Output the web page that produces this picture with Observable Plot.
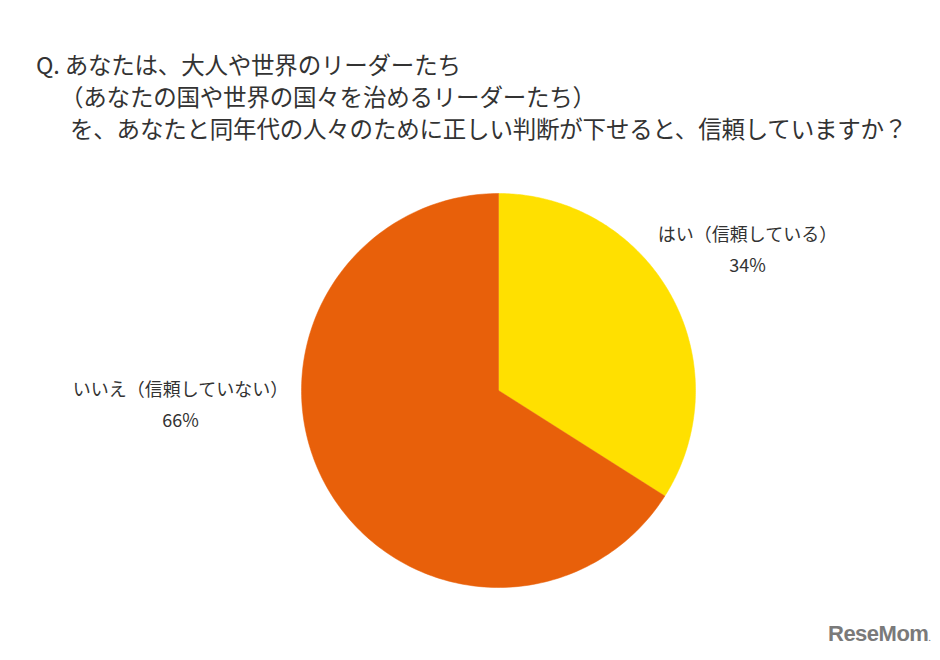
<!DOCTYPE html>
<html><head><meta charset="utf-8">
<script src="https://cdn.jsdelivr.net/npm/d3@7"></script>
<script src="https://cdn.jsdelivr.net/npm/@observablehq/plot@0.6"></script>
<style>
body{margin:0;background:#fff;font-family:"Noto Sans CJK JP","Noto Sans",sans-serif;color:#333;}
#wrap{position:relative;width:940px;height:660px;overflow:hidden;}
#title{position:relative;height:150px;}
#title div{position:absolute;font-size:23.5px;white-space:nowrap;color:#333;letter-spacing:-0.2px}
#mark{position:absolute;left:828px;top:621px;font-family:"Liberation Sans",Arial,sans-serif;font-weight:bold;font-size:22px;color:#7a7a7a;letter-spacing:-0.5px}
</style></head>
<body><div id="wrap">
<div id="title"></div>
<div id="chart"></div>
<div id="mark">ReseMom<span style="font-size:8px">.</span></div>
</div>
<script>
const titleLines = ["Q. あなたは、大人や世界のリーダーたち","（あなたの国や世界の国々を治めるリーダーたち）","を、あなたと同年代の人々のために正しい判断が下せると、信頼していますか？"];
const categories = ["はい（信頼している）","いいえ（信頼していない）"];
const values = [34, 66];
const valueLabels = ["34%","66%"];
const colors = ["#FFE000","#E8600A"];

// title layout
const tpos = [[36,47],[60,79],[70,111]];
const t = document.getElementById("title");
titleLines.forEach((s,i)=>{const d=document.createElement("div");d.textContent=s;d.style.left=tpos[i][0]+"px";d.style.top=tpos[i][1]+"px";t.appendChild(d);});

const W=940,H=510,cx=498,cy=240,R=197;
const pie = d3.pie().sort(null).startAngle(0).endAngle(2*Math.PI)(values);
const pts=[];
pie.forEach((a,i)=>{
  pts.push({c:categories[i],x:0,y:0});
  const n=200;
  for(let k=0;k<=n;k++){const ang=a.startAngle+(a.endAngle-a.startAngle)*k/n;pts.push({c:categories[i],x:Math.sin(ang),y:Math.cos(ang)});}
  pts.push({c:categories[i],x:0,y:0});
});
// label anchors (layout, in units of radius)
const labelPos=[[(747-cx)/R,(cy-(235-150))/R],[(180-cx)/R,(cy-(390-150))/R]];
const labels=[];
categories.forEach((c,i)=>{
  labels.push({x:labelPos[i][0],y:labelPos[i][1],t:c});
  labels.push({x:labelPos[i][0],y:labelPos[i][1]-31/R,t:valueLabels[i]});
});
const chart=Plot.plot({
  width:W,height:H,margin:0,
  x:{domain:[-cx/R,(W-cx)/R],range:[0,W],axis:null},
  y:{domain:[-(H-cy)/R,cy/R],range:[H,0],axis:null},
  color:{domain:categories,range:colors},
  marks:[
    Plot.line(pts,{x:"x",y:"y",z:"c",fill:"c",stroke:"c",strokeWidth:0.5,curve:"linear"}),
    Plot.text(labels,{x:"x",y:"y",text:"t",fontSize:18,fill:"#333",fontFamily:"Noto Sans CJK JP"})
  ]
});
document.getElementById("chart").appendChild(chart);
</script></body></html>
